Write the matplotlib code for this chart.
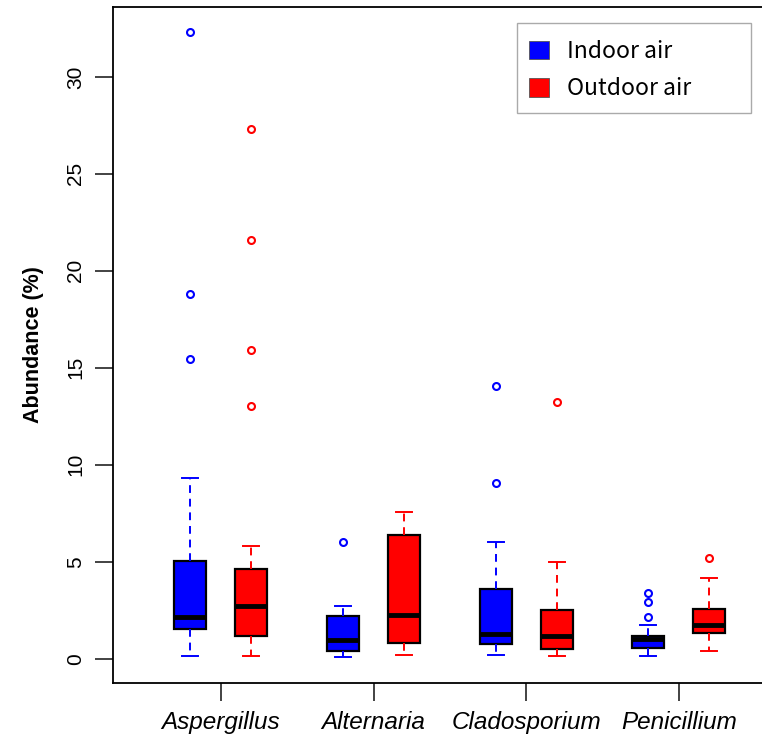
import matplotlib
matplotlib.use("Agg")
import matplotlib.pyplot as plt
from matplotlib.patches import Patch, Rectangle

# genera on the x axis
GENERA = ["Aspergillus", "Alternaria", "Cladosporium", "Penicillium"]
SERIES = ["Indoor air", "Outdoor air"]

# box statistics (whislo, q1, med, q3, whishi)
INDOOR_LO = [0.15, 0.08, 0.21, 0.15]
INDOOR_Q1 = [1.55, 0.42, 0.77, 0.57]
INDOOR_MED = [2.16, 0.98, 1.29, 1.03]
INDOOR_Q3 = [5.05, 2.20, 3.60, 1.19]
INDOOR_HI = [9.33, 2.73, 6.03, 1.75]
INDOOR_OUT = [[15.45, 18.8, 32.3], [6.03], [9.07, 14.05], [2.16, 2.94, 3.40]]

OUTDOOR_LO = [0.15, 0.21, 0.15, 0.42]
OUTDOOR_Q1 = [1.19, 0.83, 0.50, 1.34]
OUTDOOR_MED = [2.73, 2.25, 1.19, 1.75]
OUTDOOR_Q3 = [4.64, 6.39, 2.53, 2.58]
OUTDOOR_HI = [5.82, 7.58, 4.99, 4.17]
OUTDOOR_OUT = [[13.05, 15.9, 21.6, 27.3], [], [13.25], [5.2]]

BLUE = "#0000ff"
RED = "#ff0000"
W, H = 762, 734


def stats(lo, q1, med, q3, hi, out):
    return [
        dict(whislo=a, q1=b, med=c, q3=d, whishi=e, fliers=f)
        for a, b, c, d, e, f in zip(lo, q1, med, q3, hi, out)
    ]


def draw(ax, st, pos, color):
    ax.bxp(
        st,
        positions=pos,
        widths=0.21,
        patch_artist=True,
        showfliers=True,
        boxprops=dict(facecolor=color, edgecolor="black", linewidth=1.6),
        medianprops=dict(color="black", linewidth=3.5),
        whiskerprops=dict(color=color, linewidth=1.4, linestyle=(0, (4, 3))),
        capprops=dict(color=color, linewidth=1.4),
        capwidths=0.105,
        flierprops=dict(marker="o", markersize=5, markerfacecolor="none",
                        markeredgecolor=color, markeredgewidth=1.5),
        manage_ticks=False,
    )


def main():
    fig = plt.figure(figsize=(W / 100, H / 100), dpi=100)
    ax = fig.add_axes([113 / W, 51 / H, 1 - 113 / W + 0.01, 1 - 51 / H - 7 / H])

    idx = list(range(1, len(GENERA) + 1))
    draw(ax, stats(INDOOR_LO, INDOOR_Q1, INDOOR_MED, INDOOR_Q3, INDOOR_HI, INDOOR_OUT),
         [i - 0.2 for i in idx], BLUE)
    draw(ax, stats(OUTDOOR_LO, OUTDOOR_Q1, OUTDOOR_MED, OUTDOOR_Q3, OUTDOOR_HI, OUTDOOR_OUT),
         [i + 0.2 for i in idx], RED)

    ax.set_xlim(1 - 108 / 152.7, 1 + (770 - 221) / 152.7)
    ax.set_ylim(-1.25, 33.6)

    for s in ["left", "bottom", "top"]:
        ax.spines[s].set_linewidth(1.3)
    ax.spines["right"].set_visible(False)

    ax.set_yticks([0, 5, 10, 15, 20, 25, 30])
    ax.set_yticklabels(["0", "5", "10", "15", "20", "25", "30"], rotation=90,
                       va="center", family="Liberation Sans", fontsize=15)
    ax.set_xticks(idx)
    ax.set_xticklabels(GENERA, style="italic", family="Liberation Sans", fontsize=17.5)
    ax.tick_params(axis="both", length=13, width=1.2, color="#222222")
    ax.tick_params(axis="y", pad=7)
    ax.tick_params(axis="x", pad=7)

    ax.set_ylabel("Abundance (%)", family="Liberation Sans", fontweight="bold",
                  fontsize=15.5, labelpad=16)

    # legend: R-style wide frame drawn by hand, entries placed inside it
    handles = [Patch(facecolor=BLUE, edgecolor="#555555", linewidth=0.6),
               Patch(facecolor=RED, edgecolor="#555555", linewidth=0.6)]
    ax.legend(handles, SERIES, loc="upper left",
              bbox_to_anchor=(529 / W, 1 - 40 / H),
              bbox_transform=fig.transFigure,
              prop=dict(family="Noto Sans CJK KR", size=16.5),
              handlelength=0.87, handleheight=0.87, handletextpad=0.8,
              borderpad=0, labelspacing=0.62, frameon=False, borderaxespad=0)
    fig.patches.append(Rectangle((517 / W, 1 - 113 / H), 234 / W, 90 / H,
                                 transform=fig.transFigure, facecolor="none",
                                 edgecolor="#aaaaaa", linewidth=1.0))

    fig.savefig("out.png", dpi=100)


if __name__ == "__main__":
    main()
